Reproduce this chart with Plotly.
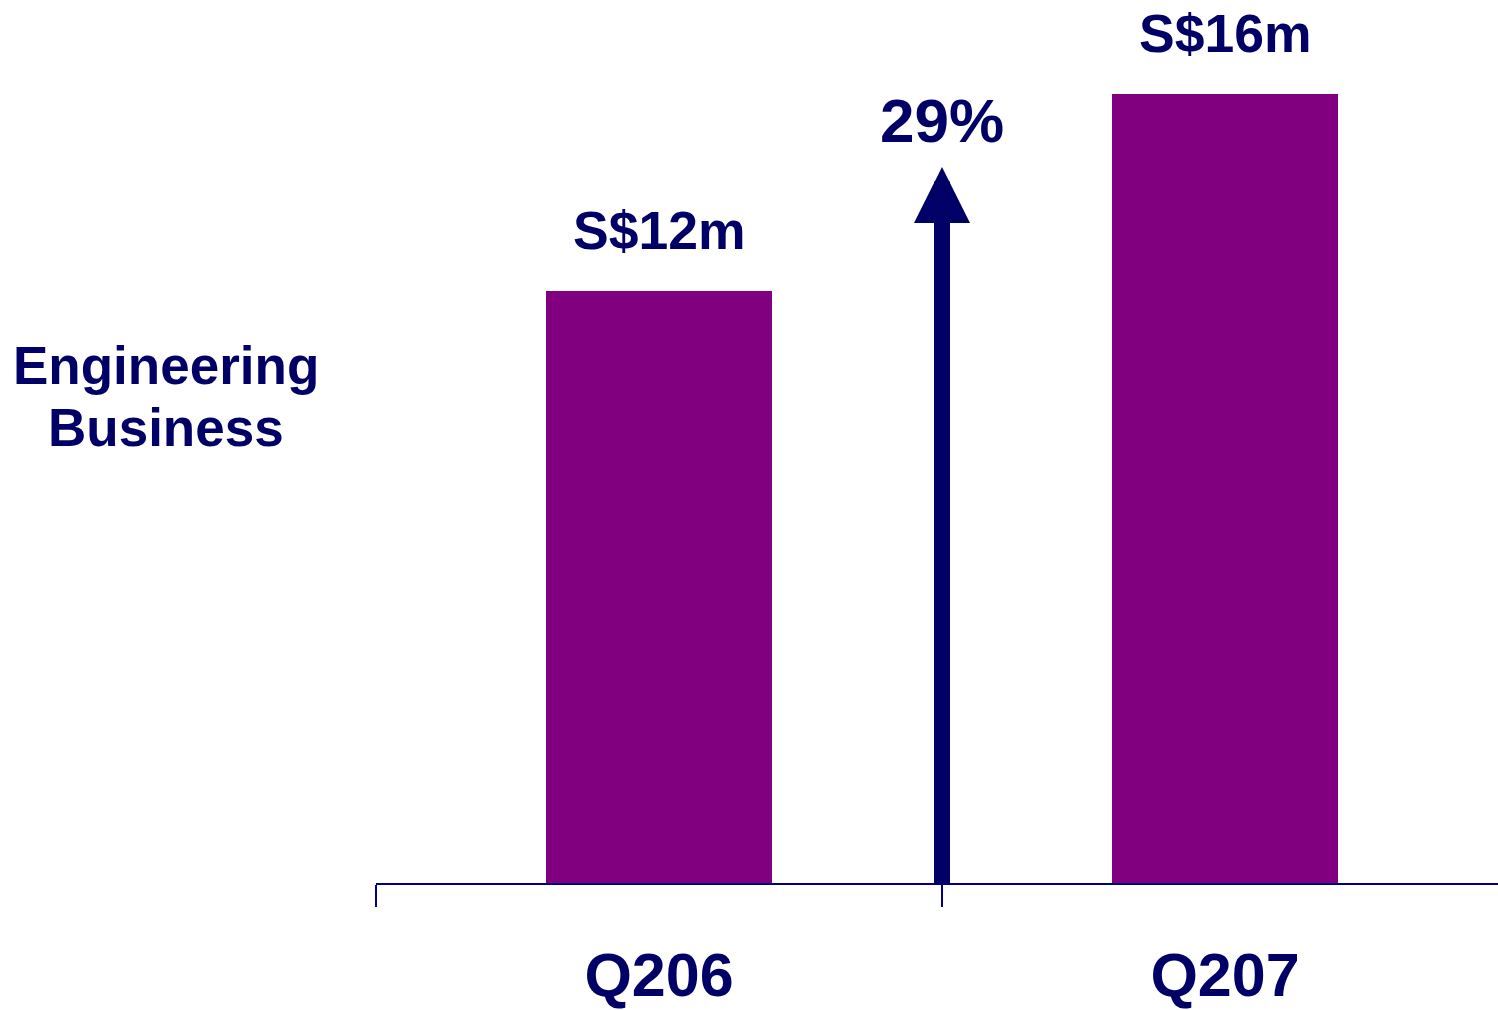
import plotly.graph_objects as go

# Quarterly revenue, engineering business (S$ million)
quarters = ["Q206", "Q207"]
revenue = [12, 16]
value_labels = ["S$12m", "S$16m"]
growth_label = "29%"
segment_lines = ["Engineering", "Business"]

NAVY = "#000066"
PURPLE = "#800080"
FONT = "Arial, 'Liberation Sans', Helvetica, sans-serif"

x_pos = list(range(len(quarters)))

fig = go.Figure()
fig.add_trace(go.Bar(
    x=x_pos,
    y=revenue,
    width=0.4,
    marker=dict(color=PURPLE, line=dict(width=0)),
    hoverinfo="skip",
))

# value labels above each bar
for xi, v, lab in zip(x_pos, revenue, value_labels):
    fig.add_annotation(
        x=xi, y=v, xref="x", yref="y",
        text=lab, showarrow=False,
        yanchor="bottom", yshift=29,
        font=dict(family=FONT, size=53.5, color=NAVY, weight="bold"),
    )

# growth arrow between the two quarters
fig.add_annotation(
    x=0.5, y=14.52, ax=0.5, ay=-0.05,
    xref="x", yref="y", axref="x", ayref="y",
    text="", showarrow=True,
    arrowhead=2, arrowsize=0.7, arrowwidth=16, arrowcolor=NAVY,
    standoff=0, startstandoff=0,
)
fig.add_annotation(
    x=0.5, y=14.52, xref="x", yref="y",
    text=growth_label, showarrow=False,
    yanchor="bottom", yshift=10,
    font=dict(family=FONT, size=62, color=NAVY, weight="bold"),
)

# segment title on the left, one annotation per line
for line, ypos in zip(segment_lines, [0.5866, 0.5153]):
    fig.add_annotation(
        x=-0.187, y=ypos, xref="paper", yref="paper",
        text=line, showarrow=False,
        xanchor="center", yanchor="middle",
        font=dict(family=FONT, size=53, color=NAVY, weight="bold"),
    )

fig.update_layout(
    width=1498, height=1010,
    margin=dict(l=376, r=0, t=0, b=127, autoexpand=False),
    paper_bgcolor="white", plot_bgcolor="white",
    showlegend=False,
    bargap=0,
)
fig.update_xaxes(
    range=[-0.5, -0.5 + 1122 / 566],
    automargin=False,
    tickmode="array", tickvals=x_pos, ticktext=quarters,
    ticks="", showgrid=False, zeroline=False,
    showline=True, linecolor="#000080", linewidth=2,
    tickfont=dict(family=FONT, size=61, color=NAVY, weight="bold"),
    ticklabelstandoff=38,
    minor=dict(tickvals=[-0.5, 0.5, 1.5], ticks="outside", ticklen=22,
               tickcolor="#000080", tickwidth=2, showgrid=False),
)
fig.update_yaxes(
    range=[0, 883 * 16 / 789],
    automargin=False,
    visible=False, showgrid=False, zeroline=False,
)

fig.write_html("out.html")
